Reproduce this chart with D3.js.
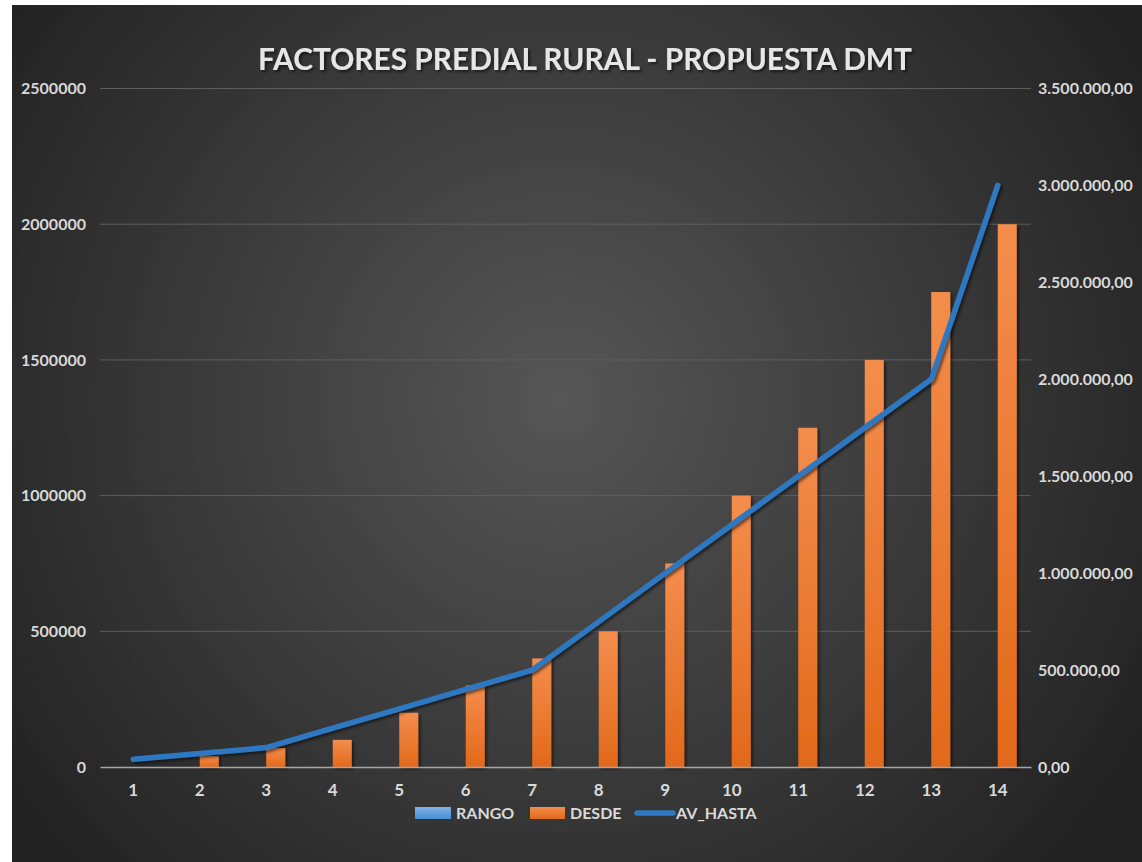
<!DOCTYPE html>
<html>
<head>
<meta charset="utf-8">
<script src="https://cdn.jsdelivr.net/npm/d3@7"></script>
<style>
  body { margin: 0; background: #ffffff; }
  text { font-family: Lato, "Open Sans", sans-serif; font-weight: bold; }
</style>
</head>
<body>
<script>
const categories = [1, 2, 3, 4, 5, 6, 7, 8, 9, 10, 11, 12, 13, 14]
const rango = [1, 2, 3, 4, 5, 6, 7, 8, 9, 10, 11, 12, 13, 14]
const desde = [0, 40000, 70000, 100000, 200000, 300000, 400000, 500000, 750000, 1000000, 1250000, 1500000, 1750000, 2000000]
const av_hasta = [40000, 70000, 100000, 200000, 300000, 400000, 500000, 750000, 1000000, 1250000, 1500000, 1750000, 2000000, 3000000]
const left_ticks = [0, 500000, 1000000, 1500000, 2000000, 2500000]
const right_ticks = [0, 500000, 1000000, 1500000, 2000000, 2500000, 3000000, 3500000]
const title_txt = "FACTORES PREDIAL RURAL - PROPUESTA DMT"
const legend_items = ["RANGO", "DESDE", "AV_HASTA"]

const W = 1142, H = 862
const txt_col = "#d9d9d9"

let svg = d3.select("body")
    .append("svg")
    .attr("width", W)
    .attr("height", H)

let defs = svg.append("defs")

let bg = defs.append("radialGradient")
    .attr("id", "bg_grad")
    .attr("gradientUnits", "userSpaceOnUse")
    .attr("cx", 560).attr("cy", 400).attr("r", 680)
bg.append("stop").attr("offset", "0%").attr("stop-color", "#565656")
bg.append("stop").attr("offset", "100%").attr("stop-color", "#222222")

let og = defs.append("linearGradient")
    .attr("id", "orange_grad")
    .attr("x1", 0).attr("y1", 0).attr("x2", 0).attr("y2", 1)
og.append("stop").attr("offset", "0%").attr("stop-color", "#f48d4c")
og.append("stop").attr("offset", "100%").attr("stop-color", "#e2691a")

let bgr = defs.append("linearGradient")
    .attr("id", "blue_grad")
    .attr("x1", 0).attr("y1", 0).attr("x2", 0).attr("y2", 1)
bgr.append("stop").attr("offset", "0%").attr("stop-color", "#7fb3e6")
bgr.append("stop").attr("offset", "100%").attr("stop-color", "#4a8fd6")

let sh = defs.append("filter")
    .attr("id", "shadow")
    .attr("x", "-20%").attr("y", "-20%").attr("width", "140%").attr("height", "140%")
sh.append("feDropShadow")
    .attr("dx", 2).attr("dy", 2).attr("stdDeviation", 1.5)
    .attr("flood-color", "#000000").attr("flood-opacity", 0.55)

// background panel (white strip left and top like the screenshot)
svg.append("rect")
    .attr("x", 12).attr("y", 5)
    .attr("width", W - 12).attr("height", H - 5)
    .attr("fill", "url(#bg_grad)")

// scales
let x = d3.scaleBand()
    .domain(categories)
    .range([100, 1031])
    .padding(0)

let y_left = d3.scaleLinear()
    .domain([0, 2500000])
    .range([767, 88.5])

let y_right = d3.scaleLinear()
    .domain([0, 3500000])
    .range([767, 88.5])

const es = d3.formatLocale({decimal: ",", thousands: ".", grouping: [3], currency: ["", ""]})
const fmt_right = es.format(",.2f")

// gridlines
svg.append("g")
    .selectAll("line")
    .data(left_ticks.slice(1))
    .join("line")
    .attr("x1", 100).attr("x2", 1031)
    .attr("y1", d => y_left(d)).attr("y2", d => y_left(d))
    .attr("stroke", "#5e5e5e")
    .attr("stroke-width", 1)

// left axis
let ax_left = svg.append("g")
    .attr("transform", "translate(86,0)")
    .call(d3.axisLeft(y_left).tickValues(left_ticks).tickFormat(d3.format("d")).tickSize(0).tickPadding(0))
ax_left.select(".domain").remove()
ax_left.selectAll("text")
    .style("font-size", "16px")
    .attr("fill", txt_col)

// right axis
let ax_right = svg.append("g")
    .attr("transform", "translate(1038,0)")
    .call(d3.axisRight(y_right).tickValues(right_ticks).tickFormat(fmt_right).tickSize(0).tickPadding(0))
ax_right.select(".domain").remove()
ax_right.selectAll("text")
    .style("font-size", "16px")
    .attr("fill", txt_col)

// bars
const bw = 19
svg.append("g")
    .selectAll("rect")
    .data(categories)
    .join("rect")
    .attr("x", (d, i) => x(d) + x.bandwidth() / 2 - bw)
    .attr("y", (d, i) => y_left(rango[i]))
    .attr("width", bw)
    .attr("height", (d, i) => y_left(0) - y_left(rango[i]))
    .attr("fill", "url(#blue_grad)")

svg.append("g")
    .selectAll("rect")
    .data(categories)
    .join("rect")
    .attr("x", (d, i) => x(d) + x.bandwidth() / 2)
    .attr("y", (d, i) => y_left(desde[i]))
    .attr("width", bw)
    .attr("height", (d, i) => y_left(0) - y_left(desde[i]))
    .attr("fill", "url(#orange_grad)")
    .attr("filter", "url(#shadow)")

// x axis
let ax_bottom = svg.append("g")
    .attr("transform", "translate(0,767)")
    .call(d3.axisBottom(x).tickSize(0).tickPadding(17))
ax_bottom.select(".domain")
    .attr("stroke", "#a6a6a6")
    .attr("stroke-width", 1.5)
ax_bottom.selectAll("text")
    .style("font-size", "17px")
    .attr("fill", txt_col)

// line
let line = d3.line()
    .x((d, i) => x(categories[i]) + x.bandwidth() / 2)
    .y(d => y_right(d))

svg.append("path")
    .datum(av_hasta)
    .attr("d", line)
    .attr("fill", "none")
    .attr("stroke", "#2f78c2")
    .attr("stroke-width", 5.5)
    .attr("stroke-linecap", "round")
    .attr("stroke-linejoin", "round")
    .attr("filter", "url(#shadow)")

// title
svg.append("text")
    .attr("x", 585)
    .attr("y", 70)
    .attr("text-anchor", "middle")
    .attr("textLength", 654)
    .attr("lengthAdjust", "spacingAndGlyphs")
    .style("font-size", "31px")
    .attr("fill", "#e6e6e6")
    .attr("filter", "url(#shadow)")
    .text(title_txt)

// legend
let lg = svg.append("g")
const leg_y = 813
lg.append("rect")
    .attr("x", 415).attr("y", leg_y - 6)
    .attr("width", 36).attr("height", 12)
    .attr("fill", "url(#blue_grad)")
lg.append("text")
    .attr("x", 456).attr("y", leg_y + 6)
    .style("font-size", "16px")
    .attr("fill", txt_col)
    .text(legend_items[0])

lg.append("rect")
    .attr("x", 530).attr("y", leg_y - 6)
    .attr("width", 35).attr("height", 12)
    .attr("fill", "url(#orange_grad)")
lg.append("text")
    .attr("x", 570).attr("y", leg_y + 6)
    .style("font-size", "16px")
    .attr("fill", txt_col)
    .text(legend_items[1])

lg.append("line")
    .attr("x1", 637).attr("x2", 673)
    .attr("y1", leg_y).attr("y2", leg_y)
    .attr("stroke", "#2f78c2")
    .attr("stroke-width", 5.5)
    .attr("stroke-linecap", "round")
lg.append("text")
    .attr("x", 676).attr("y", leg_y + 6)
    .style("font-size", "16px")
    .attr("fill", txt_col)
    .text(legend_items[2])
</script>
</body>
</html>
